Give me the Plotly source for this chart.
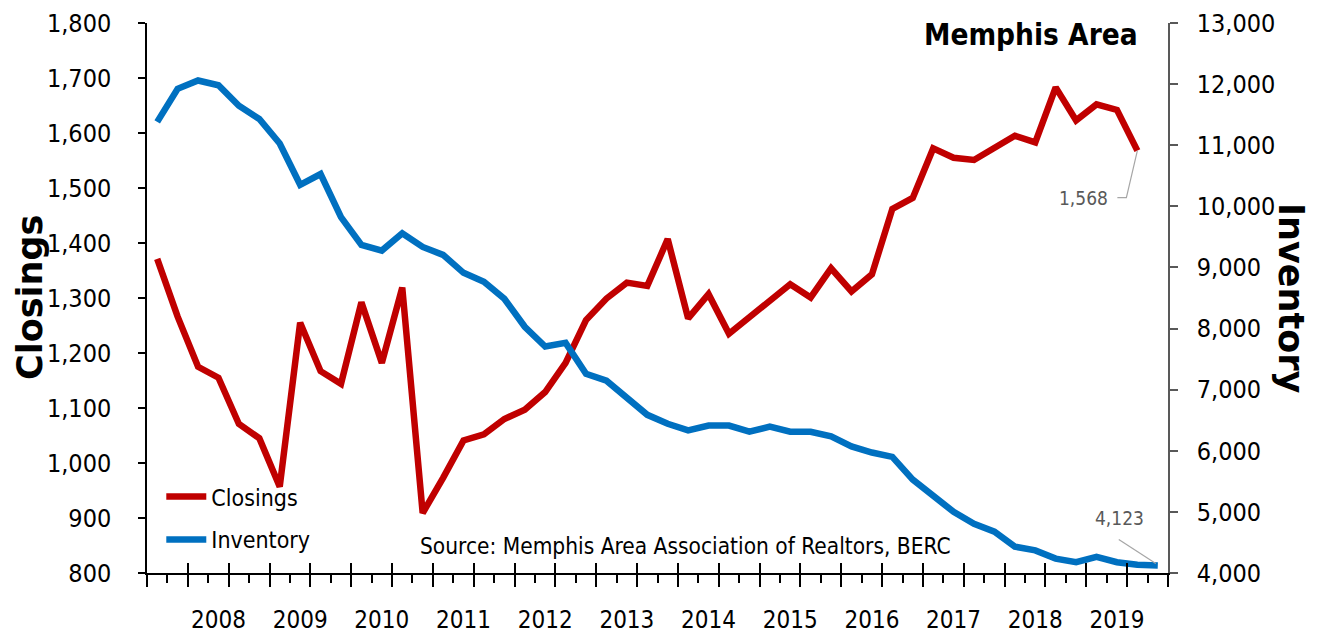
import plotly.graph_objects as go

# quarterly periods, 2007Q2 .. 2019Q3
quarters = [f"{y}Q{q}" for y in range(2007, 2020) for q in range(1, 5)][1:51]

closings = [1371, 1266, 1175, 1155, 1071, 1045, 957, 1255, 1167, 1144,
            1292, 1182, 1319, 909, 973, 1041, 1052, 1080, 1097, 1129,
            1182, 1260, 1299, 1328, 1322, 1407, 1263, 1307, 1235, 1265,
            1296, 1325, 1301, 1354, 1312, 1343, 1462, 1482, 1572, 1555,
            1551, 1572, 1595, 1583, 1683, 1623, 1652, 1642, 1568]

inventory = [11382, 11924, 12059, 11982, 11647, 11429, 11029, 10353, 10529, 9824,
             9370, 9276, 9559, 9335, 9206, 8912, 8765, 8488, 8029, 7706,
             7765, 7260, 7147, 6853, 6588, 6441, 6335, 6412, 6412, 6312,
             6394, 6312, 6310, 6235, 6071, 5971, 5900, 5529, 5276, 5000,
             4806, 4676, 4430, 4370, 4236, 4177, 4265, 4177, 4136, 4123]

RED = '#C00000'
BLUE = '#0070C0'
NARROW = 'DejaVu Sans Condensed, Liberation Sans Narrow, sans-serif'

x_idx = list(range(len(quarters)))
year_pos = [i for i, q in enumerate(quarters) if q.endswith('Q1')]
year_txt = [quarters[i][:4] for i in year_pos]
xr = [-0.5, len(quarters) - 0.5]

fig = go.Figure()
fig.add_trace(go.Scatter(x=x_idx[:len(closings)], y=closings, name='Closings',
                         mode='lines', line=dict(color=RED, width=6.5),
                         legendgroup='a'))
fig.add_trace(go.Scatter(x=x_idx, y=inventory, name='Inventory',
                         xaxis='x2', yaxis='y2',
                         mode='lines', line=dict(color=BLUE, width=6.5),
                         legendgroup='b'))
# empty trace so the upper half of the crossing tick marks gets drawn
fig.add_trace(go.Scatter(x=[], y=[], xaxis='x3', yaxis='y', showlegend=False,
                         hoverinfo='skip'))

# page body has an 8px margin, so the figure is 8px smaller each way
fig.update_layout(
    width=1315, height=629,
    margin=dict(l=139, r=155, t=15, b=64),
    plot_bgcolor='white', paper_bgcolor='white',
    font=dict(family=NARROW, size=24, color='black'),
    showlegend=True,
    legend=dict(x=0.014, y=0.178, xanchor='left', yanchor='top',
                font=dict(size=23, family=NARROW), bgcolor='rgba(0,0,0,0)',
                tracegroupgap=10, itemwidth=40),
    xaxis=dict(range=xr, showgrid=False, zeroline=False, automargin=False,
               showline=True, linecolor='black', linewidth=1.5,
               tickmode='linear', tick0=-0.5, dtick=2,
               ticks='outside', ticklen=12, tickwidth=1.5, tickcolor='black',
               showticklabels=False,
               minor=dict(ticks='outside', ticklen=8, tickwidth=1.5,
                          tickcolor='black', tick0=-0.5, dtick=1)),
    xaxis2=dict(range=xr, overlaying='x', anchor='y', side='bottom',
                showgrid=False, zeroline=False, showline=False, automargin=False,
                tickmode='array', tickvals=year_pos, ticktext=year_txt,
                ticks='', ticklabelstandoff=30, tickfont=dict(size=24)),
    xaxis3=dict(range=xr, overlaying='x', anchor='y', side='bottom',
                showgrid=False, zeroline=False, showline=False, automargin=False,
                tickmode='linear', tick0=-0.5, dtick=2,
                ticks='inside', ticklen=10, tickwidth=1.5, tickcolor='black',
                showticklabels=False),
    yaxis=dict(range=[800, 1800], dtick=100, tickformat=',',
               showgrid=False, zeroline=False, automargin=False,
               showline=True, linecolor='black', linewidth=1.5,
               ticks='outside', ticklen=7, tickwidth=1.5, tickcolor='black',
               ticklabelstandoff=22, tickfont=dict(size=25)),
    yaxis2=dict(range=[4000, 13000], dtick=1000, tickformat=',',
                overlaying='y', side='right', anchor='x2',
                showgrid=False, zeroline=False, automargin=False,
                showline=True, linecolor='#595959', linewidth=1.5,
                ticks='outside', ticklen=8, tickwidth=1.5, tickcolor='#595959',
                ticklabelstandoff=14, tickfont=dict(size=25)),
)

# axis titles
fig.add_annotation(text='<b>Closings</b>', xref='paper', yref='paper',
                   x=0, y=0.5, xshift=-117, xanchor='center', yanchor='middle',
                   textangle=-90, showarrow=False,
                   font=dict(family='DejaVu Sans', size=35, color='black'))
fig.add_annotation(text='<b>Inventory</b>', xref='paper', yref='paper',
                   x=1, y=0.5, xshift=123, xanchor='center', yanchor='middle',
                   textangle=90, showarrow=False,
                   font=dict(family='DejaVu Sans', size=35, color='black'))

fig.add_annotation(text='<b>Memphis Area</b>', xref='paper', yref='paper',
                   x=1, y=1, xshift=-28, yshift=-12, xanchor='right', yanchor='middle',
                   showarrow=False, font=dict(family=NARROW, size=29.5, color='black'))

fig.add_annotation(text='Source: Memphis Area Association of Realtors, BERC',
                   xref='paper', yref='paper', x=0, y=0, xshift=271, yshift=27,
                   xanchor='left', yanchor='middle', showarrow=False,
                   font=dict(family=NARROW, size=22.5, color='black'))

# end-point labels with leader lines
last_c = len(closings) - 1
last_i = len(inventory) - 1
fig.add_annotation(text=f'{closings[-1]:,}', x=last_c, y=closings[-1],
                   xanchor='right', yanchor='middle', xshift=-27, yshift=-47,
                   showarrow=False, font=dict(family=NARROW, size=19, color='#595959'))
fig.add_shape(type='path', xref='x', yref='y', xsizemode='pixel', ysizemode='pixel',
              xanchor=last_c, yanchor=closings[-1],
              path='M0,0 L-11,-47 L-20,-47', line=dict(color='#A6A6A6', width=1.2))
fig.add_annotation(text=f'{inventory[-1]:,}', x=last_i, y=inventory[-1],
                   xref='x2', yref='y2',
                   xanchor='center', yanchor='middle', xshift=-38, yshift=47,
                   showarrow=False, font=dict(family=NARROW, size=19, color='#595959'))
fig.add_shape(type='path', xref='x2', yref='y2', xsizemode='pixel', ysizemode='pixel',
              xanchor=last_i, yanchor=inventory[-1],
              path='M-2,2 L-39,26', line=dict(color='#A6A6A6', width=1.2))

fig.write_html('out.html')
